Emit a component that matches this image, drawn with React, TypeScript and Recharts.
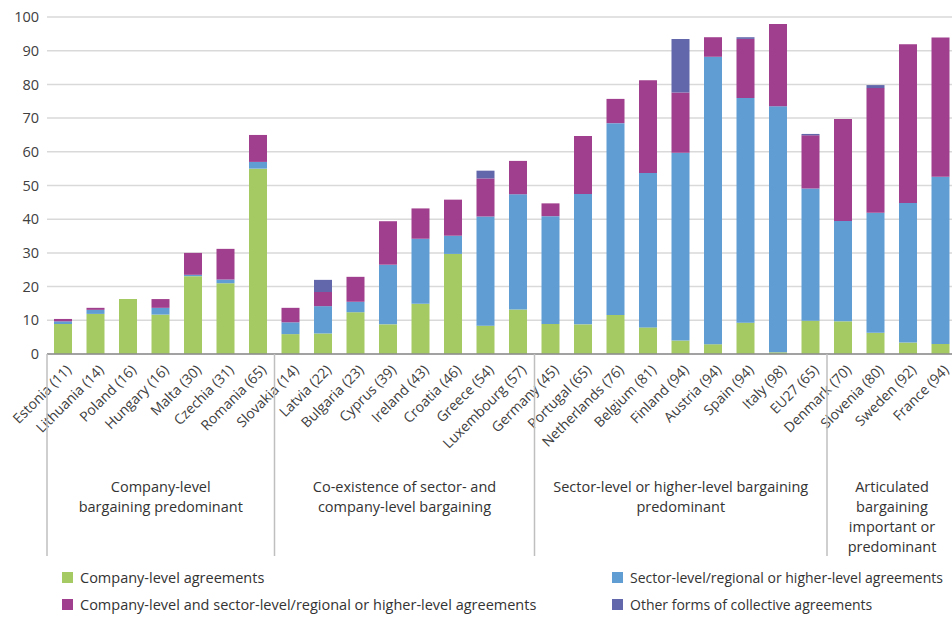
import React from 'react';
import { BarChart, Bar, XAxis, YAxis, CartesianGrid } from 'recharts';

const countries = [
  'Estonia (11)', 'Lithuania (14)', 'Poland (16)', 'Hungary (16)', 'Malta (30)', 'Czechia (31)', 'Romania (65)',
  'Slovakia (14)', 'Latvia (22)', 'Bulgaria (23)', 'Cyprus (39)', 'Ireland (43)', 'Croatia (46)', 'Greece (54)', 'Luxembourg (57)',
  'Germany (45)', 'Portugal (65)', 'Netherlands (76)', 'Belgium (81)', 'Finland (94)', 'Austria (94)', 'Spain (94)', 'Italy (98)', 'EU27 (65)',
  'Denmark (70)', 'Slovenia (80)', 'Sweden (92)', 'France (94)',
];
const companyLevel = [8.9, 11.9, 16.3, 11.7, 23.1, 21.0, 55.0, 5.9, 6.1, 12.4, 8.8, 14.9, 29.7, 8.4, 13.2, 8.9, 8.8, 11.6, 7.9, 4.0, 2.9, 9.3, 0.5, 9.9, 9.7, 6.3, 3.4, 3.0];
const sectorLevel = [0.8, 1.2, 0, 2.0, 0.4, 1.1, 2.0, 3.5, 8.1, 3.1, 17.7, 19.3, 5.4, 32.4, 34.2, 32.0, 38.7, 56.9, 45.8, 55.7, 85.3, 66.7, 73.0, 39.2, 29.8, 35.6, 41.4, 49.6];
const bothLevels = [0.7, 0.6, 0, 2.6, 6.5, 9.1, 8.0, 4.3, 4.2, 7.4, 12.9, 9.0, 10.7, 11.3, 9.9, 3.8, 17.2, 7.2, 27.5, 17.9, 5.8, 17.5, 24.4, 15.8, 30.2, 37.0, 47.1, 41.3];
const otherForms = [0, 0, 0, 0, 0, 0, 0, 0, 3.6, 0, 0, 0, 0, 2.3, 0, 0, 0, 0, 0, 15.9, 0, 0.5, 0, 0.4, 0, 0.9, 0, 0];
const yTicks = [0, 10, 20, 30, 40, 50, 60, 70, 80, 90, 100];

// groups: label lines and number of countries in each
const groups = [
  { lines: ['Company-level', 'bargaining predominant'], count: 7 },
  { lines: ['Co-existence of sector- and', 'company-level bargaining'], count: 8 },
  { lines: ['Sector-level or higher-level bargaining', 'predominant'], count: 9 },
  { lines: ['Articulated', 'bargaining', 'important or', 'predominant'], count: 4 },
];

const series = [
  { key: 'company', name: 'Company-level agreements', color: '#a5c963' },
  { key: 'sector', name: 'Sector-level/regional or higher-level agreements', color: '#5f9dd3' },
  { key: 'both', name: 'Company-level and sector-level/regional or higher-level agreements', color: '#a03f8d' },
  { key: 'other', name: 'Other forms of collective agreements', color: '#6267ab' },
];

const data = countries.map((c, i) => ({
  name: c,
  company: companyLevel[i],
  sector: sectorLevel[i],
  both: bothLevels[i],
  other: otherForms[i],
}));

const W = 952;
const H = 617;
const margin = { top: 17, right: -5, bottom: 233, left: 7 };
const yAxisWidth = 40;
const plotLeft = margin.left + yAxisWidth;
const plotRight = W - margin.right;
const plotBottom = H - margin.bottom - 30;
const band = (plotRight - plotLeft) / countries.length;
const font = '"Open Sans", sans-serif';

const CountryTick = (props: any) => {
  const { x, y, payload } = props;
  return (
    <text
      transform={`translate(${x + 2},${y + 2}) rotate(-45)`}
      textAnchor="end"
      dy="0.7em"
      fontSize={14}
      fontFamily={font}
      fill="#404040"
    >
      {payload.value}
    </text>
  );
};

const App = () => {
  let start = 0;
  const groupBoxes = groups.map((g) => {
    const x0 = plotLeft + start * band;
    start += g.count;
    return { ...g, x0, x1: plotLeft + start * band };
  });

  return (
    <div style={{ position: 'relative', width: W, height: H, fontFamily: font }}>
      <style>{'body{margin:0}'}</style>
      <BarChart width={W} height={H} data={data} margin={margin}>
        <CartesianGrid vertical={false} stroke="#d9d9d9" strokeWidth={1.5} />
        <XAxis
          dataKey="name"
          interval={0}
          tick={<CountryTick />}
          tickLine={false}
          axisLine={{ stroke: '#8c8c8c', strokeWidth: 1.5 }}
        />
        <YAxis
          width={yAxisWidth}
          domain={[0, 100]}
          ticks={yTicks}
          tickLine={false}
          axisLine={false}
          tick={{ fill: '#404040', fontSize: 14.5, fontFamily: font }}
        />
        {series.map((s) => (
          <Bar
            key={s.key}
            dataKey={s.key}
            name={s.name}
            stackId="a"
            fill={s.color}
            barSize={18}
            isAnimationActive={false}
          />
        ))}
      </BarChart>
      <svg width={W} height={H} style={{ position: 'absolute', left: 0, top: 0, pointerEvents: 'none' }}>
        {groupBoxes.map((g, i) => (
          <g key={i}>
            <line x1={g.x0} x2={g.x0} y1={plotBottom} y2={556} stroke="#bfbfbf" strokeWidth={1.5} />
            <text
              x={(g.x0 + g.x1) / 2}
              y={492}
              textAnchor="middle"
              fontSize={14.5}
              fontFamily={font}
              fill="#333"
            >
              {g.lines.map((l, j) => (
                <tspan key={j} x={(g.x0 + g.x1) / 2} dy={j === 0 ? 0 : 20}>
                  {l}
                </tspan>
              ))}
            </text>
          </g>
        ))}
      </svg>
      <div
        style={{
          position: 'absolute',
          left: 62,
          top: 568,
          width: 890,
          display: 'grid',
          gridTemplateColumns: '550px 340px',
          rowGap: 8,
          color: '#333',
        }}
      >
        {series.map((s, i) => (
          <div
            key={s.key}
            style={{
              display: 'flex',
              alignItems: 'center',
              height: 19,
              whiteSpace: 'nowrap',
              fontSize: i % 2 === 0 ? 14.5 : 14,
            }}
          >
            <span style={{ width: 11, height: 11, background: s.color, marginRight: 7, flexShrink: 0 }} />
            {s.name}
          </div>
        ))}
      </div>
    </div>
  );
};

export default App;
